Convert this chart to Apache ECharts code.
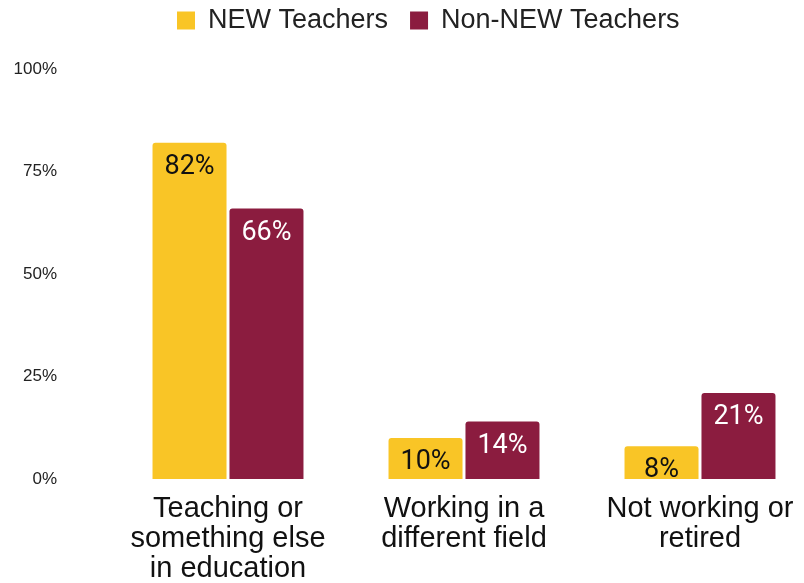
<!DOCTYPE html>
<html>
<head>
<meta charset="utf-8">
<script src="https://cdn.jsdelivr.net/npm/echarts@6/dist/echarts.min.js"></script>
<style>
  html, body { margin: 0; padding: 0; background: #ffffff; }
  #chart { width: 804px; height: 583px; }
</style>
</head>
<body>
<div id="chart"></div>
<script>
// Where teachers ended up, by cohort (percent of respondents)
var categories = [
  'Teaching or\nsomething else\nin education',
  'Working in a\ndifferent field',
  'Not working or\nretired'
];
var newTeachers = [82, 10, 8];
var nonNewTeachers = [66, 14, 21];
var seriesNames = ['NEW Teachers', 'Non-NEW Teachers'];
var yTicks = [0, 25, 50, 75, 100];

var YELLOW = '#F9C526';
var MAROON = '#8B1C3F';

var chart = echarts.init(document.getElementById('chart'), null, { renderer: 'canvas' });

function barLabel(color) {
  return {
    show: true,
    position: 'insideTop',
    distance: 11,
    formatter: '{c}%',
    color: color,
    fontFamily: 'Roboto',
    fontSize: 27
  };
}

chart.setOption({
  animation: false,
  backgroundColor: '#ffffff',
  legend: {
    top: 2,
    left: 172,
    itemWidth: 18,
    itemHeight: 18,
    itemGap: 22,
    icon: 'rect',
    textStyle: {
      fontFamily: 'Liberation Sans',
      fontSize: 27,
      color: '#222222',
      padding: [0, 0, 0, 8]
    },
    data: seriesNames
  },
  grid: {
    left: 110,
    width: 708,
    top: 69,
    bottom: 104,
    containLabel: false,
    outerBoundsMode: 'none'
  },
  xAxis: {
    type: 'category',
    data: categories,
    axisLine: { show: false },
    axisTick: { show: false },
    axisLabel: {
      margin: 15,
      fontFamily: 'Liberation Sans',
      fontSize: 29,
      lineHeight: 30,
      color: '#111111',
      interval: 0
    }
  },
  yAxis: {
    type: 'value',
    min: yTicks[0],
    max: yTicks[yTicks.length - 1],
    interval: 25,
    axisLine: { show: false },
    axisTick: { show: false },
    splitLine: { show: false },
    axisLabel: {
      margin: 53,
      formatter: '{value}%',
      fontFamily: 'Liberation Sans',
      fontSize: 17,
      color: '#222222'
    }
  },
  series: [
    {
      name: seriesNames[0],
      type: 'bar',
      data: newTeachers,
      barWidth: 74,
      barGap: '4%',
      itemStyle: { color: YELLOW, borderRadius: [3, 3, 0, 0] },
      label: barLabel('#111111')
    },
    {
      name: seriesNames[1],
      type: 'bar',
      data: nonNewTeachers,
      barWidth: 74,
      itemStyle: { color: MAROON, borderRadius: [3, 3, 0, 0] },
      label: barLabel('#ffffff')
    }
  ]
});
</script>
</body>
</html>
